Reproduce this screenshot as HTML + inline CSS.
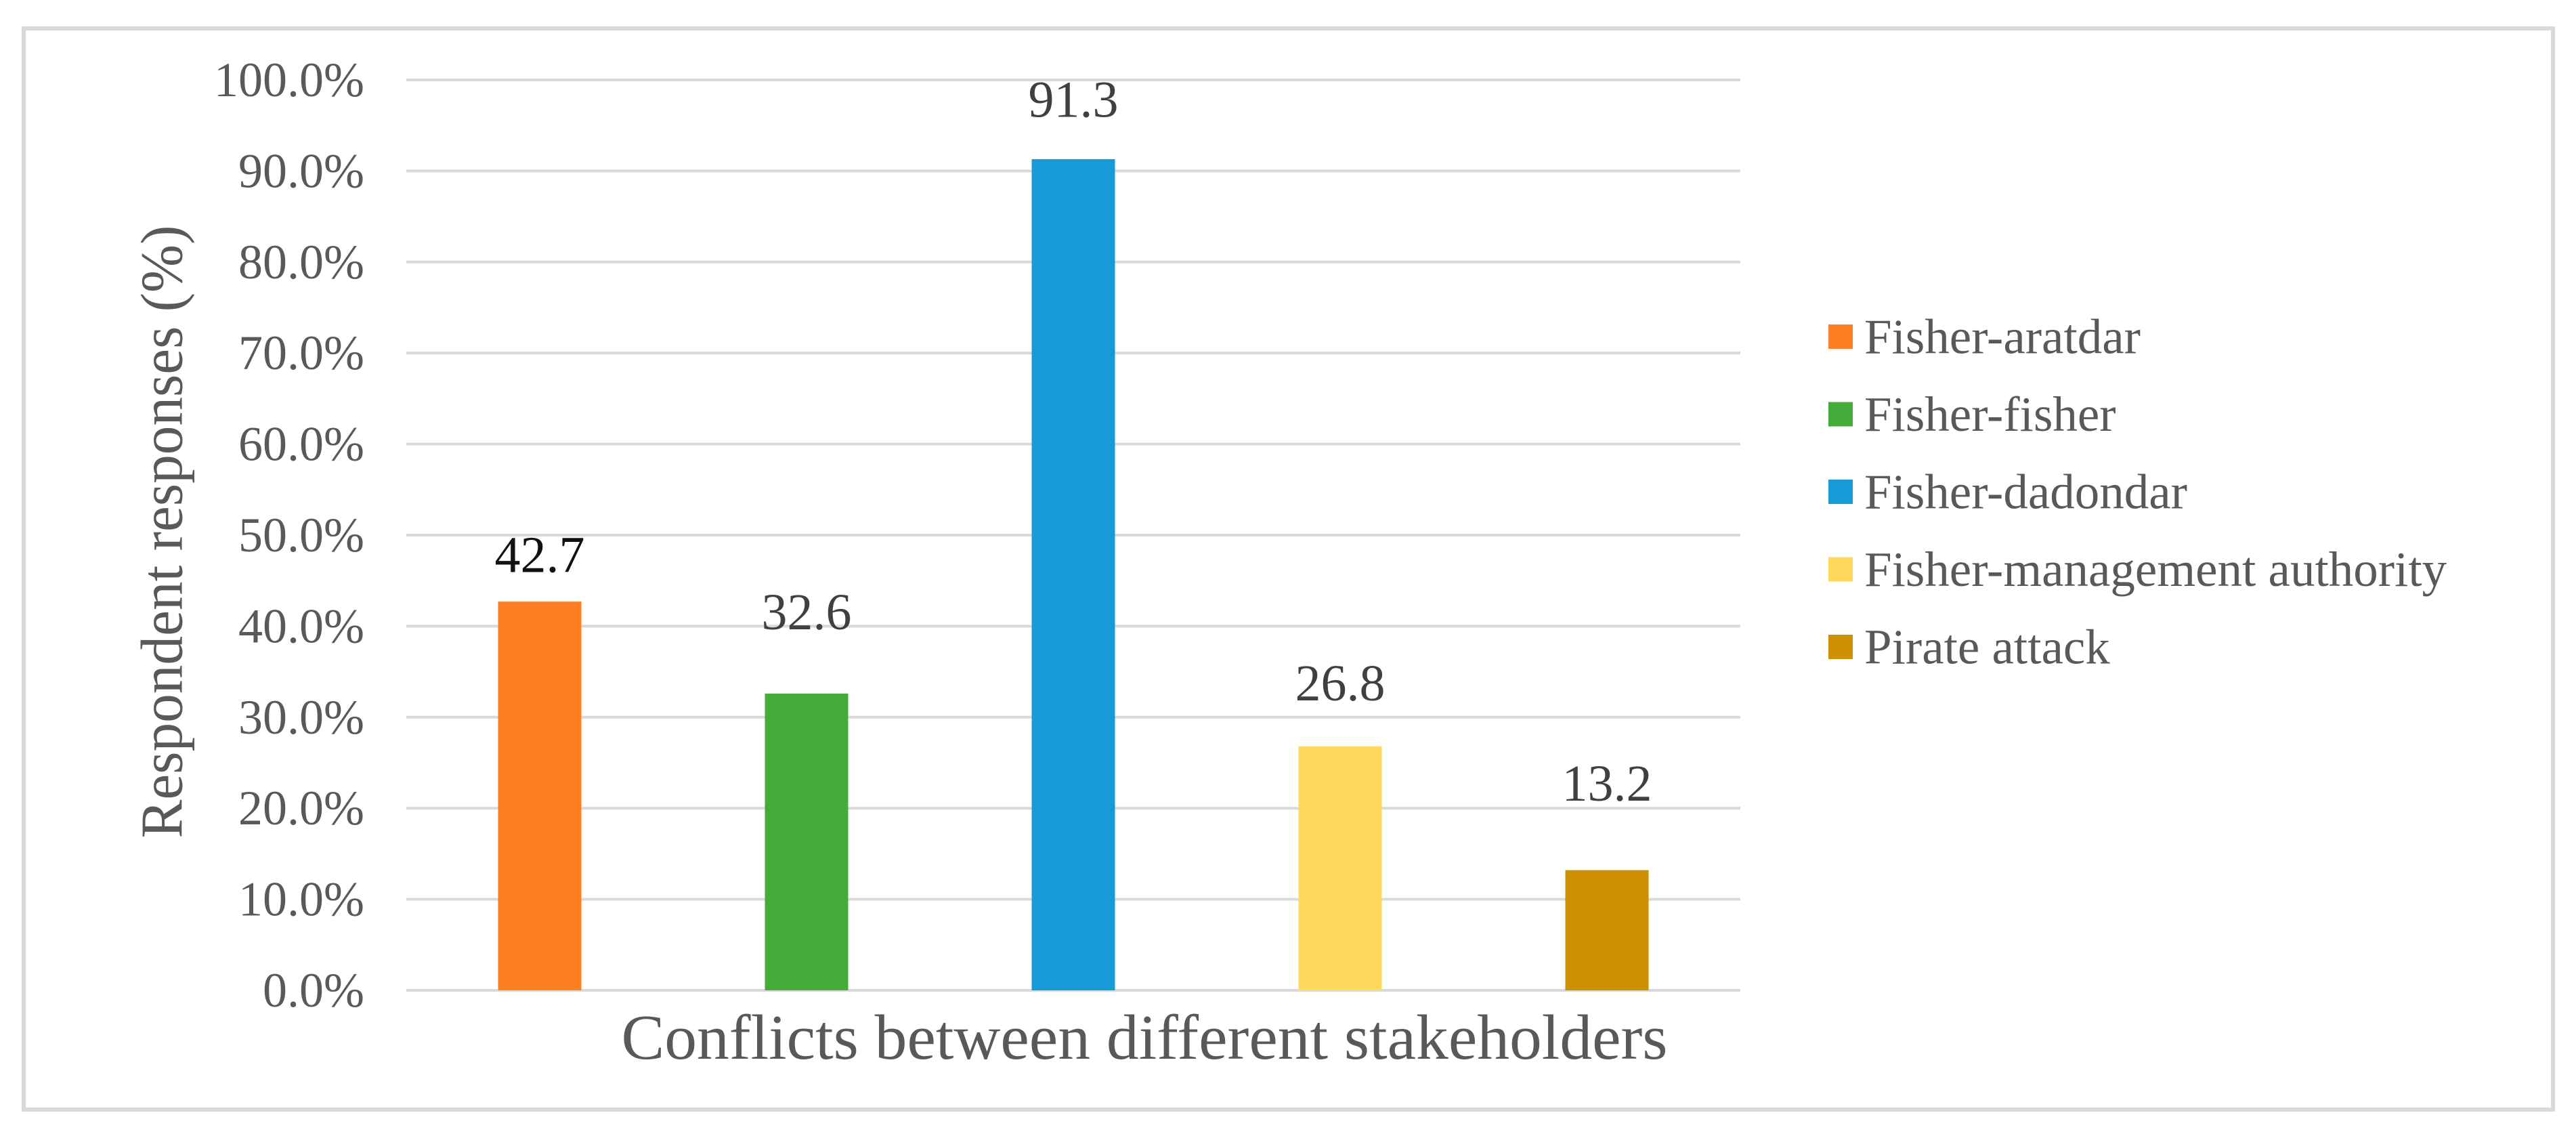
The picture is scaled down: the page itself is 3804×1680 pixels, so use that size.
<!DOCTYPE html>
<html><head><meta charset="utf-8"><style>
html,body{margin:0;padding:0;background:#fff;}
svg{display:block;font-family:"Liberation Serif",serif;}
</style></head><body>
<svg id="chart" width="3804" height="1680" viewBox="0 0 3804 1680" xmlns="http://www.w3.org/2000/svg">
<rect x="35" y="42" width="3735" height="1596" fill="#fff" stroke="#d9d9d9" stroke-width="6"/>
<g id="grid"></g><g id="bars"></g><g id="labels"></g><g id="legend"></g>
<text x="0" y="0" transform="translate(240,785) rotate(-90)" text-anchor="middle" dominant-baseline="central" font-size="88" fill="#595959" textLength="905" lengthAdjust="spacingAndGlyphs">Respondent responses (%)</text>
<text x="1690" y="1532" text-anchor="middle" dominant-baseline="central" font-size="94" fill="#595959" textLength="1545" lengthAdjust="spacingAndGlyphs">Conflicts between different stakeholders</text>
</svg>
<script>
const categories = ["Fisher-aratdar","Fisher-fisher","Fisher-dadondar","Fisher-management authority","Pirate attack"];
const values = [42.7,32.6,91.3,26.8,13.2];
const labelLevels = [47.8,41.5,97.8,33.7,22.7];
const tickValues = [0,10,20,30,40,50,60,70,80,90,100];
const tickLabels = ["0.0%","10.0%","20.0%","30.0%","40.0%","50.0%","60.0%","70.0%","80.0%","90.0%","100.0%"];
const colors = ["#FD7E23","#44AD3A","#179BD7","#FFD85C","#CC9000"];

const NS="http://www.w3.org/2000/svg";
const plotL=600, plotR=2570, y0=1462, y100=118;
function yScale(v){return y0-(y0-y100)*v/100;}
const slot=(plotR-plotL)/categories.length, barW=123;
function xCenter(i){return plotL+slot*(i+0.5);}
function mk(tag,parent,attrs){const e=document.createElementNS(NS,tag);for(const k in attrs)e.setAttribute(k,attrs[k]);parent.appendChild(e);return e;}
const grid=document.getElementById('grid'),bars=document.getElementById('bars'),labels=document.getElementById('labels'),legend=document.getElementById('legend');
tickValues.forEach((t,i)=>{
  const ln=mk('line',grid,{x1:plotL,x2:plotR,y1:yScale(t),y2:yScale(t),stroke:'#d9d9d9','stroke-width':4});
  
  
  const tx=mk('text',grid,{x:538,y:yScale(t),'text-anchor':'end','dominant-baseline':'central','font-size':72,fill:'#595959'});
  tx.textContent=tickLabels[i];
  
  
});
values.forEach((v,i)=>{
  const r=mk('rect',bars,{x:xCenter(i)-barW/2,y:yScale(v),width:barW,height:y0-yScale(v),fill:colors[i]});
  
  
  const t=mk('text',labels,{x:xCenter(i),y:yScale(labelLevels[i]),'text-anchor':'middle','dominant-baseline':'central','font-size':76,fill:i===0?'#111':'#404040'});
  t.textContent=v.toFixed(1);
  
  
});
categories.forEach((c,i)=>{
  const cy=497+114.5*i;
  const s=mk('rect',legend,{x:2700,y:cy-18,width:36,height:36,fill:colors[i]});
  
  
  const t=mk('text',legend,{x:2753,y:cy,'dominant-baseline':'central','font-size':73,fill:'#595959'});
  t.textContent=c;
  
  
});
</script>
</body></html>
